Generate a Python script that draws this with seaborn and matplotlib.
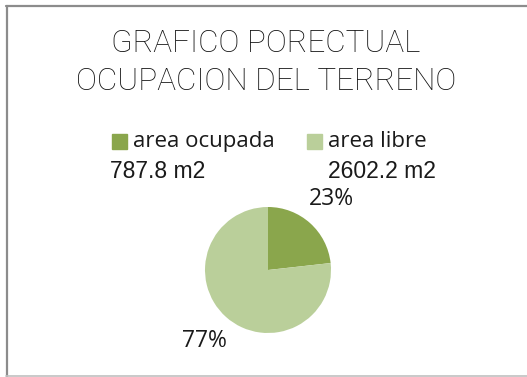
import matplotlib
matplotlib.use("Agg")
import matplotlib.pyplot as plt
import matplotlib.patches as mpatches
import seaborn as sns

# Land-use data
categories = ["area ocupada", "area libre"]
areas_m2 = [787.8, 2602.2]
area_labels = ["787.8 m2", "2602.2 m2"]
colors = ["#8aa64c", "#bacf9a"]

sns.set_theme(style="white")
plt.rcParams["font.family"] = ["Open Sans", "DejaVu Sans"]

W, H = 527, 377
fig = plt.figure(figsize=(W / 100, H / 100), dpi=100)
fig.patch.set_facecolor("white")


def fx(px):
    return px / W


def fy(py):
    return 1 - py / H


# Frame lines
fig.add_artist(plt.Line2D([fx(6), 1], [fy(6), fy(6)], color="#8c8c8c", lw=1.6))
fig.add_artist(plt.Line2D([fx(6.5), fx(6.5)], [fy(6), 0], color="#8c8c8c", lw=1.6))
fig.add_artist(plt.Line2D([fx(6), 1], [fy(376), fy(376)], color="#c0c0c0", lw=1.2))

# Title
title_style = dict(ha="center", va="center", fontsize=22.6, color="#111111",
                   family=["Roboto", "DejaVu Sans"], fontweight="light")
fig.text(fx(266), fy(44), "GRAFICO PORECTUAL", **title_style)
fig.text(fx(266), fy(81), "OCUPACION DEL TERRENO", **title_style)

# Legend entries
legend_x = [112, 307]
for x0, cat, col in zip(legend_x, categories, colors):
    fig.add_artist(mpatches.Rectangle((fx(x0), fy(149)), fx(15), 15 / H,
                                      color=col, transform=fig.transFigure))
    fig.text(fx(x0 + 21), fy(142), cat, ha="left", va="center",
             fontsize=16, color="#1a1a1a")
for x0, lab in zip([110, 328], area_labels):
    fig.text(fx(x0), fy(171), lab, ha="left", va="center", fontsize=16.5,
             color="#1a1a1a", family=["Liberation Sans", "DejaVu Sans"])

# Pie
r = 63
cx, cy = 268, 270
ax = fig.add_axes([fx(cx - r), fy(cy + r), 2 * r / W, 2 * r / H])
wedges, texts, autotexts = ax.pie(
    areas_m2, colors=colors, startangle=90, counterclock=False,
    autopct=lambda p: f"{p:.0f}%", pctdistance=1.52, radius=1,
    textprops=dict(fontsize=16.5, color="#1a1a1a"),
    wedgeprops=dict(linewidth=0))
ax.set_xlim(-1, 1)
ax.set_ylim(-1, 1)
ax.set_aspect("equal")
ax.axis("off")

fig.savefig("out.png", dpi=100, facecolor="white")
